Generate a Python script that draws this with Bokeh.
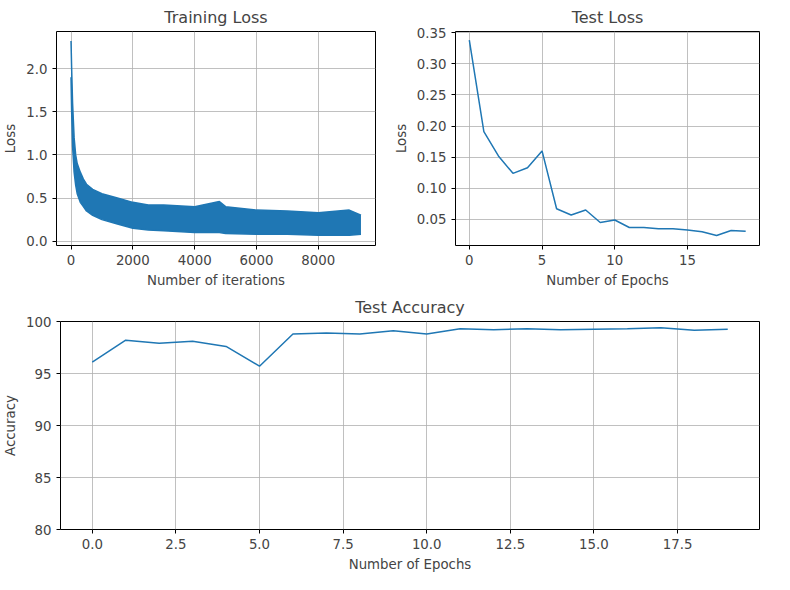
from bokeh.plotting import figure
from bokeh.layouts import column, row
from bokeh.models import Range1d, FixedTicker
from bokeh.embed import file_html
from bokeh.resources import INLINE

BLUE = "#1f77b4"

# Training loss: noisy band (upper / lower envelope)
iter_x = [0, 20, 50, 100, 150, 200, 300, 400, 500, 700, 1000, 1500, 2000, 2500, 3000,
          4000, 4800, 5000, 6000, 7000, 8000, 9000, 9380]
loss_hi = [2.32, 2.0, 1.6, 1.2, 1.0, 0.9, 0.8, 0.72, 0.66, 0.6, 0.55, 0.5, 0.45, 0.42, 0.42,
           0.4, 0.46, 0.4, 0.36, 0.35, 0.33, 0.36, 0.3]
loss_lo = [1.9, 1.5, 1.1, 0.8, 0.65, 0.55, 0.45, 0.4, 0.35, 0.3, 0.25, 0.2, 0.15, 0.13, 0.12,
           0.1, 0.1, 0.09, 0.08, 0.08, 0.07, 0.07, 0.08]

epochs = list(range(20))
test_loss = [0.338, 0.191, 0.152, 0.124, 0.133, 0.160, 0.067, 0.057, 0.065, 0.045,
             0.049, 0.037, 0.037, 0.035, 0.035, 0.033, 0.030, 0.024, 0.032, 0.031]
test_acc = [96.1, 98.2, 97.9, 98.1, 97.6, 95.7, 98.8, 98.9, 98.8, 99.1,
            98.8, 99.3, 99.2, 99.3, 99.2, 99.25, 99.3, 99.4, 99.15, 99.25]


def style(p, xlabel, ylabel):
    p.title.align = "center"
    p.title.text_font_size = "12pt"
    p.title.text_font_style = "normal"
    p.title.text_font = "DejaVu Sans"
    p.outline_line_color = "black"
    p.outline_line_width = 1
    for ax in (p.xaxis, p.yaxis):
        ax.axis_label_text_font_size = "10pt"
        ax.axis_label_text_font_style = "normal"
        ax.axis_label_text_font = "DejaVu Sans"
        ax.major_label_text_font_size = "10pt"
        ax.major_label_text_font = "DejaVu Sans"
        ax.minor_tick_line_color = None
        ax.axis_line_color = None
        ax.major_tick_out = 4
        ax.major_tick_in = 0
    p.xaxis.axis_label = xlabel
    p.yaxis.axis_label = ylabel
    p.grid.grid_line_color = "#b0b0b0"
    p.grid.grid_line_width = 0.8
    p.min_border_left = 10
    p.min_border_right = 15


p1 = figure(width=390, height=290, title="Training Loss", output_backend="svg",
            toolbar_location=None, x_range=Range1d(-470, 9850), y_range=Range1d(-0.05, 2.43))
p1.varea(x=iter_x, y1=loss_lo, y2=loss_hi, color=BLUE)
p1.line(x=iter_x, y=loss_hi, color=BLUE, line_width=1.5)
p1.line(x=iter_x, y=loss_lo, color=BLUE, line_width=1.5)
p1.xaxis.ticker = FixedTicker(ticks=[0, 2000, 4000, 6000, 8000])
p1.yaxis.ticker = FixedTicker(ticks=[0, 0.5, 1, 1.5, 2])
p1.yaxis.major_label_overrides = {0: "0.0", 0.5: "0.5", 1: "1.0", 1.5: "1.5", 2: "2.0"}
style(p1, "Number of iterations", "Loss")

p2 = figure(width=384, height=290, title="Test Loss", output_backend="svg",
            toolbar_location=None, x_range=Range1d(-0.95, 19.95), y_range=Range1d(0.008, 0.352))
p2.line(x=epochs, y=test_loss, color=BLUE, line_width=1.5)
p2.xaxis.ticker = FixedTicker(ticks=[0, 5, 10, 15])
yt = [0.05, 0.1, 0.15, 0.2, 0.25, 0.3, 0.35]
p2.yaxis.ticker = FixedTicker(ticks=yt)
p2.yaxis.major_label_overrides = {t: "%.2f" % t for t in yt}
style(p2, "Number of Epochs", "Loss")

p3 = figure(width=774, height=284, title="Test Accuracy", output_backend="svg",
            toolbar_location=None, x_range=Range1d(-0.95, 19.95), y_range=Range1d(80, 100))
p3.line(x=epochs, y=test_acc, color=BLUE, line_width=1.5)
xt = [0, 2.5, 5, 7.5, 10, 12.5, 15, 17.5]
p3.xaxis.ticker = FixedTicker(ticks=xt)
p3.xaxis.major_label_overrides = {t: "%.1f" % t for t in xt}
p3.yaxis.ticker = FixedTicker(ticks=[80, 85, 90, 95, 100])
style(p3, "Number of Epochs", "Accuracy")

p = column(row(p1, p2), p3)
open("out.html", "w").write(file_html(p, INLINE))
